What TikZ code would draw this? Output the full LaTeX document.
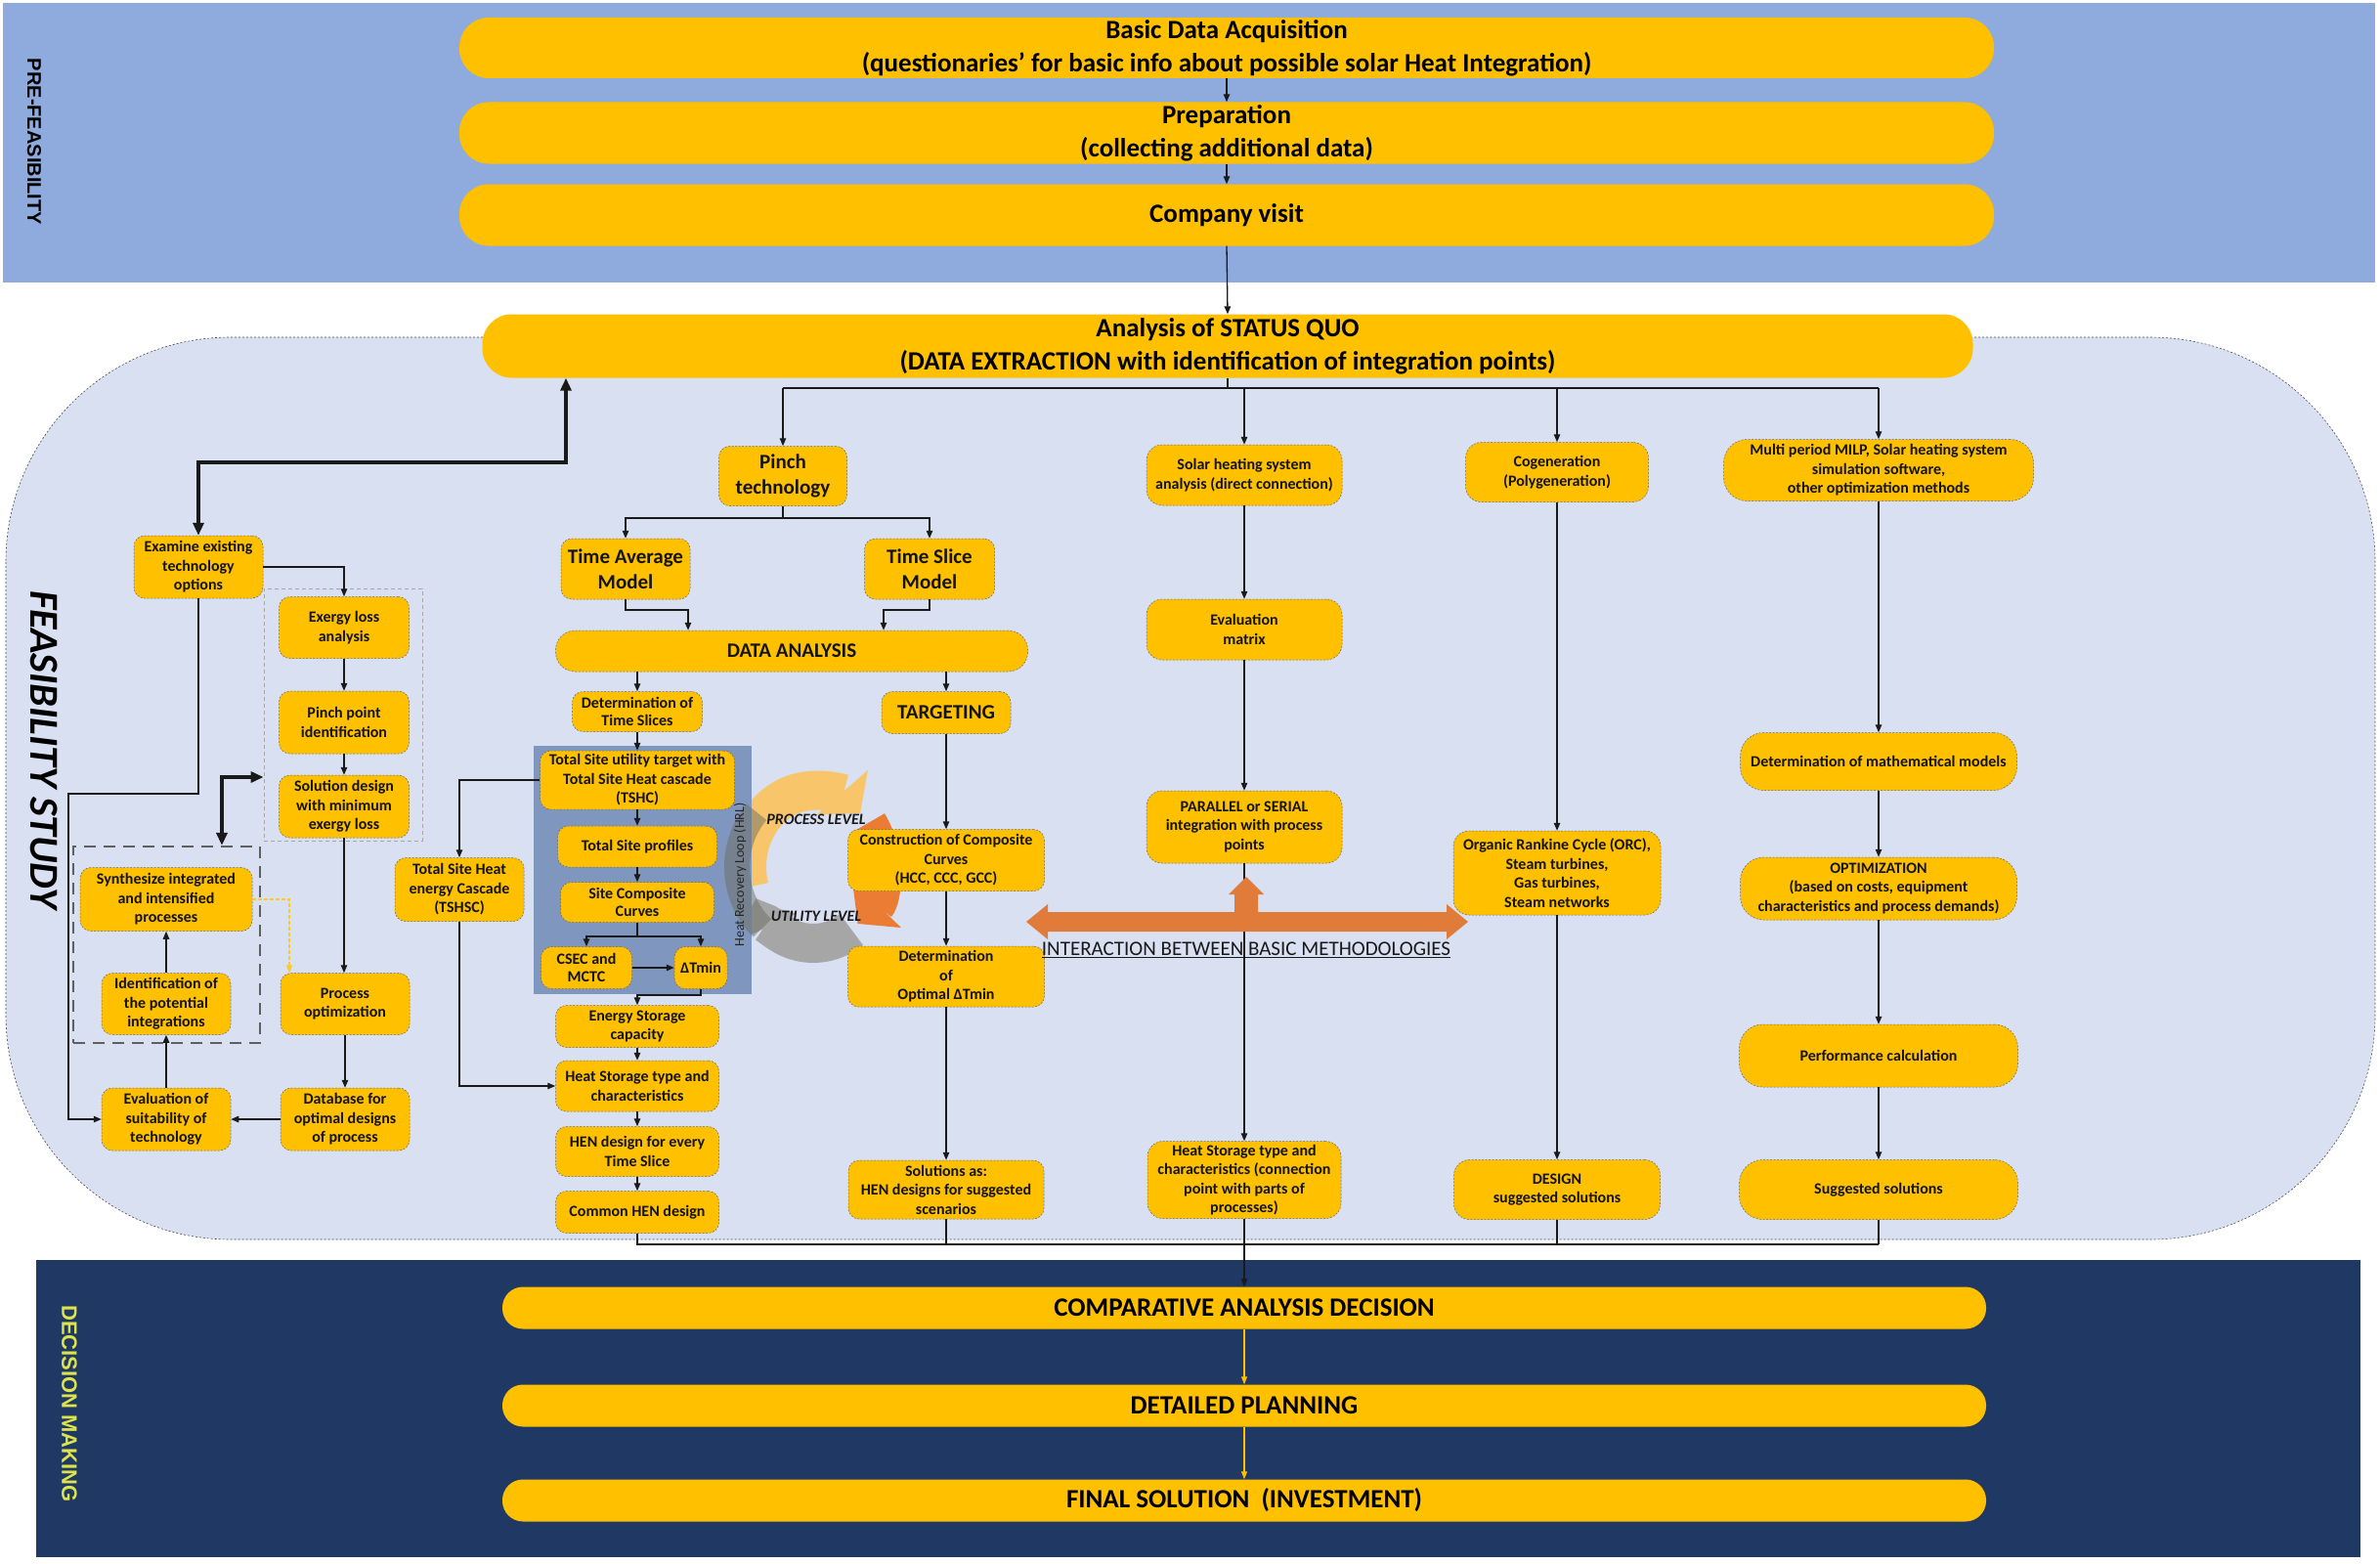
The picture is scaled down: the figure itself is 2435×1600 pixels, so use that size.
\documentclass[tikz,border=0pt]{standalone}
\usepackage{fontspec}
\setmainfont{Carlito}
\newfontfamily\labfont{Liberation Sans}
\usetikzlibrary{arrows.meta,calc}
\definecolor{prebg}{HTML}{8FAADC}
\definecolor{feasbg}{HTML}{D9E0F2}
\definecolor{decbg}{HTML}{1F3864}
\definecolor{ybox}{HTML}{FFC000}
\definecolor{hrlbg}{HTML}{7F96BE}
\definecolor{lorange}{HTML}{F8C56B}
\definecolor{dorange}{HTML}{EB7C33}
\definecolor{cgray}{HTML}{A6A6A6}
\definecolor{hrlarc}{HTML}{6E6E64}
\definecolor{iarrow}{HTML}{E07B3A}
\definecolor{declab}{HTML}{DCE34B}
\definecolor{lineclr}{HTML}{1A1A1A}
\newcommand{\myfs}[2]{\fontsize{#1}{#2}\selectfont}
\tikzset{
  box/.style={draw=black!60, line width=0.5pt, dash pattern=on 2pt off 1.5pt, fill=ybox, rounded corners=11pt, align=center, inner sep=1pt, text=black!92, font=\bfseries\myfs{16}{19.5}},
  bigbox/.style={box, font=\bfseries\myfs{21}{26}},
  pill/.style={box, rounded corners=24pt},
  bar/.style={fill=ybox, rounded corners=30pt, align=center, text=black, font=\bfseries\myfs{27}{34}, minimum width=1570, minimum height=62, inner sep=0pt},
  dbar/.style={fill=ybox, rounded corners=21pt, align=center, text=black, font=\bfseries\myfs{27}{32}, minimum width=1518, minimum height=43, inner sep=0pt},
  wire/.style={draw=lineclr, line width=1.3pt},
  conn/.style={wire, -{Triangle[length=8pt,width=6.5pt]}},
  hwire/.style={draw=lineclr, line width=3.4pt},
  hconn/.style={hwire, {Triangle[length=13pt,width=11pt]}-{Triangle[length=13pt,width=11pt]}},
  yconn/.style={draw=ybox!85!white, line width=1.2pt, dash pattern=on 4pt off 2pt, -{Triangle[length=8pt,width=6.5pt]}},
  dconn/.style={draw=ybox, line width=1.2pt, -{Triangle[length=8pt,width=6pt]}},
  grpa/.style={draw=gray!70, line width=0.8pt, dash pattern=on 4pt off 3pt, inner sep=0pt},
  grpb/.style={draw=gray!75!black, line width=2.2pt, dash pattern=on 12pt off 8pt, inner sep=0pt},
  lvl/.style={font=\bfseries\itshape\myfs{16}{18}, text=black!90},
  ring/.style={line width=40pt, -{Triangle[length=28pt,width=68pt]}},
}
\begin{document}
\begin{tikzpicture}[x=1pt,y=-1pt]
\useasboundingbox (0,0) rectangle (2435,1600);
\fill[white] (0,0) rectangle (2435,1600);
% bands
\fill[prebg] (3,3) rectangle (2430,289);
\fill[feasbg, rounded corners=230pt] (6,345) rectangle (2430,1268);
\draw[gray!60!black, line width=0.6pt, dash pattern=on 2pt off 2pt, rounded corners=230pt] (6,345) rectangle (2430,1268);
\fill[decbg] (37,1289) rectangle (2415,1593);

% band labels
\node[rotate=-90, font=\labfont\bfseries\myfs{20}{24}, text=black] (lpre) at (35,145) {PRE-FEASIBILITY};
\node[rotate=-90, font=\bfseries\itshape\myfs{42}{46}, text=black] (lfeas) at (45,767) {FEASIBILITY STUDY};
\node[rotate=-90, font=\labfont\bfseries\myfs{22}{26}, text=declab] (ldec) at (71,1436) {DECISION MAKING};

% top bars
\node[bar] (basic) at (1255,49) {Basic Data Acquisition\\(questionaries' for basic info about possible solar Heat Integration)};
\node[bar, minimum height=63] (prep) at (1255,136) {Preparation\\(collecting additional data)};
\node[bar, minimum height=63] (visit) at (1255,220) {Company visit};
\node[bar, minimum width=1525, minimum height=65] (status) at (1256,354) {Analysis of STATUS QUO\\(DATA EXTRACTION with identification of integration points)};

% cycle graphic
\begin{scope}[shift={(832,887)}]
  \draw[lorange, ring] (195:68pt and 78pt) arc[start angle=195, end angle=45, x radius=68pt, y radius=78pt];
  \draw[cgray, ring] (-55:68pt and 78pt) arc[start angle=-55, end angle=-152, x radius=68pt, y radius=78pt];
  \draw[dorange, ring] (35:68pt and 78pt) arc[start angle=35, end angle=-48, x radius=68pt, y radius=78pt];
\end{scope}

% HRL panel
\node[fill=hrlbg, minimum width=223, minimum height=254, inner sep=0pt] (hrlp) at (657.5,890) {};
\begin{scope}[shift={(832,887)}]
  \draw[hrlarc, opacity=0.5, line width=26pt] (228:78pt and 84pt) arc[start angle=228, end angle=138, x radius=78pt, y radius=84pt];
\end{scope}
\node[rotate=90, font=\myfs{14}{16}, text=black!85] (hrltxt) at (757,895) {Heat Recovery Loop (HRL)};

% dashed groups (left)
\node[grpa, minimum width=162, minimum height=258] (grpex) at (351,731) {};
\node[grpb, minimum width=191, minimum height=201] (grpsy) at (170.5,966.5) {};

% left column
\node[box, minimum width=132, minimum height=64] (exam) at (203,580) {Examine existing\\technology\\options};
\node[box, minimum width=133, minimum height=63] (exer) at (352,642) {Exergy loss\\analysis};
\node[box, minimum width=133, minimum height=64] (pinpt) at (352,739) {Pinch point\\identification};
\node[box, minimum width=133, minimum height=64] (soldes) at (352,825) {Solution design\\with minimum\\exergy loss};
\node[box, minimum width=176, minimum height=65] (synth) at (170,920) {Synthesize integrated\\and intensified\\processes};
\node[box, minimum width=132, minimum height=63] (ident) at (170,1027) {Identification of\\the potential\\integrations};
\node[box, minimum width=132, minimum height=64] (evalt) at (170,1145) {Evaluation of\\suitability of\\technology};
\node[box, minimum width=132, minimum height=63] (procopt) at (353,1027) {Process\\optimization};
\node[box, minimum width=132, minimum height=64] (dbase) at (353,1145) {Database for\\optimal designs\\of process};
\node[box, minimum width=132, minimum height=65] (tshsc) at (470,910) {Total Site Heat\\energy Cascade\\(TSHSC)};

% pinch column
\node[bigbox, minimum width=131, minimum height=61] (pinch) at (801,487) {Pinch\\technology};
\node[bigbox, minimum width=132, minimum height=62] (tam) at (640,582) {Time Average\\Model};
\node[bigbox, minimum width=133, minimum height=62] (tsm) at (951,582) {Time Slice\\Model};
\node[bigbox, rounded corners=20pt, minimum width=483, minimum height=42] (da) at (810,666) {DATA ANALYSIS};
\node[box, minimum width=133, minimum height=41, font=\bfseries\myfs{16}{18.5}] (dts) at (652,728) {Determination of\\Time Slices};
\node[bigbox, minimum width=132, minimum height=43] (targ) at (968,729) {TARGETING};
\node[box, minimum width=199, minimum height=60] (tshc) at (652,798) {Total Site utility target with\\Total Site Heat cascade\\(TSHC)};
\node[box, minimum width=163, minimum height=42] (tsp) at (652,866) {Total Site profiles};
\node[box, minimum width=157, minimum height=41, font=\bfseries\myfs{16}{18.5}] (scc) at (652,923) {Site Composite\\Curves};
\node[box, minimum width=93, minimum height=43, font=\bfseries\myfs{16}{18.5}] (csec) at (600,990) {CSEC and\\MCTC};
\node[box, minimum width=54, minimum height=43] (dtm) at (717,990) {ΔTmin};
\node[box, minimum width=167, minimum height=43, font=\bfseries\myfs{16}{18.5}] (esc) at (652,1050) {Energy Storage\\capacity};
\node[box, minimum width=167, minimum height=52] (hst) at (652,1111) {Heat Storage type and\\characteristics};
\node[box, minimum width=167, minimum height=51] (hen) at (652,1178) {HEN design for every\\Time Slice};
\node[box, minimum width=167, minimum height=43] (chen) at (652,1240) {Common HEN design};
\node[box, minimum width=201, minimum height=63] (ccc) at (968,880) {Construction of Composite\\Curves\\(HCC, CCC, GCC)};
\node[box, minimum width=201, minimum height=62] (optdt) at (968,999) {Determination\\of\\Optimal ΔTmin};
\node[box, minimum width=200, minimum height=60] (solas) at (968,1217) {Solutions as:\\HEN designs for suggested\\scenarios};

% solar column
\node[box, rounded corners=16pt, minimum width=200, minimum height=62] (solar) at (1273,486) {Solar heating system\\analysis (direct connection)};
\node[box, rounded corners=16pt, minimum width=200, minimum height=62] (evm) at (1273,644) {Evaluation\\matrix};
\node[box, rounded corners=16pt, minimum width=200, minimum height=74] (par) at (1273,846) {PARALLEL or SERIAL\\integration with process\\points};
\node[box, rounded corners=16pt, minimum width=198, minimum height=79] (hs3) at (1273,1207) {Heat Storage type and\\characteristics (connection\\point with parts of\\processes)};

% cogeneration column
\node[box, rounded corners=16pt, minimum width=187, minimum height=61] (cogen) at (1593,483) {Cogeneration\\(Polygeneration)};
\node[box, rounded corners=16pt, minimum width=212, minimum height=86] (orc) at (1593,893) {Organic Rankine Cycle (ORC),\\Steam turbines,\\Gas turbines,\\Steam networks};
\node[box, rounded corners=16pt, minimum width=211, minimum height=61] (design) at (1593,1217) {DESIGN\\suggested solutions};

% optimisation column
\node[pill, minimum width=317, minimum height=63] (milp) at (1922,481) {Multi period MILP, Solar heating system\\simulation software,\\other optimization methods};
\node[pill, minimum width=283, minimum height=59] (mathm) at (1922,779) {Determination of mathematical models};
\node[pill, minimum width=283, minimum height=64] (optim) at (1922,909) {OPTIMIZATION\\(based on costs, equipment\\characteristics and process demands)};
\node[pill, minimum width=285, minimum height=64] (perf) at (1922,1080) {Performance calculation};
\node[pill, minimum width=285, minimum height=61] (sugg) at (1922,1217) {Suggested solutions};

% decision bars
\node[dbar] (comp) at (1273,1338) {COMPARATIVE ANALYSIS DECISION};
\node[dbar] (plan) at (1273,1438) {DETAILED PLANNING};
\node[dbar] (final) at (1273,1535) {FINAL SOLUTION\ \ (INVESTMENT)};

% ---------- connectors ----------
% top
\draw[conn] (basic.south) -- (prep.north);
\draw[conn] (prep.south) -- (visit.north);
\draw[conn] (visit.south) -- (status.north);
% branches from status
\coordinate (br0) at (1256,397);
\coordinate (brL) at (801,397);
\coordinate (brR) at (1922,397);
\draw[wire] (status.south) -- (br0);
\draw[wire] (brL) -- (brR);
\draw[conn] (brL) -- (pinch.north);
\draw[conn] (solar.north |- brL) -- (solar.north);
\draw[conn] (cogen.north |- brL) -- (cogen.north);
\draw[conn] (brR) -- (milp.north);
% examine loop (thick)
\coordinate (k1) at (203,473);
\coordinate (k2) at (579,473);
\draw[hconn] (exam.north) -- (k1) -- (k2) -- (status.south -| k2);
\coordinate (tb) at (227,795);
\draw[hconn] (grpsy.north -| tb) -- (tb) -- (grpex.west |- tb);
% left column
\draw[conn] (exam.east) -| (exer.north);
\draw[conn] (exer.south) -- (pinpt.north);
\draw[conn] (pinpt.south) -- (soldes.north);
\draw[conn] (soldes.south) -- (procopt.north -| soldes.south);
\draw[conn] (procopt.south) -- (dbase.north);
\draw[conn] (dbase.west) -- (evalt.east);
\draw[conn] (evalt.north) -- (ident.south);
\draw[conn] (ident.north) -- (synth.south);
\coordinate (l1) at (203,812);
\coordinate (l2) at (70,812);
\draw[conn] (exam.south) -- (l1) -- (l2) -- (evalt.west -| l2) -- (evalt.west);
\coordinate (yb) at (296,920);
\draw[yconn] (synth.east) -- (yb) -- (yb |- procopt.north);
% pinch column
\coordinate (p1) at (801,530);
\draw[wire] (pinch.south) -- (p1);
\draw[conn] (p1) -| (tam.north);
\draw[conn] (p1) -| (tsm.north);
\coordinate (t1) at (704,624);
\coordinate (t2) at (904,624);
\draw[conn] (tam.south) |- (t1) -- (t1 |- da.north);
\draw[conn] (tsm.south) |- (t2) -- (t2 |- da.north);
\draw[conn] (da.south -| dts.north) -- (dts.north);
\draw[conn] (da.south -| targ.north) -- (targ.north);
\draw[conn] (dts.south) -- (tshc.north);
\draw[conn] (tshc.south) -- (tsp.north);
\draw[conn] (tsp.south) -- (scc.north);
\coordinate (sc1) at (652,958);
\draw[wire] (scc.south) -- (sc1);
\draw[conn] (sc1) -| (csec.north);
\draw[conn] (sc1) -| (dtm.north);
\draw[conn] (csec.east) -- (dtm.west);
\coordinate (es1) at (652,1018);
\draw[conn] (dtm.south) |- (es1) -- (esc.north);
\draw[conn] (esc.south) -- (hst.north);
\draw[conn] (hst.south) -- (hen.north);
\draw[conn] (hen.south) -- (chen.north);
\draw[conn] (tshc.west) -| (tshsc.north);
\draw[conn] (tshsc.south) |- (hst.west);
\draw[conn] (targ.south) -- (ccc.north);
\draw[conn] (ccc.south) -- (optdt.north);
\draw[conn] (optdt.south) -- (solas.north);
% solar column
\draw[conn] (solar.south) -- (evm.north);
\draw[conn] (evm.south) -- (par.north);
\draw[conn] (par.south) -- (hs3.north);
% cogeneration column
\draw[conn] (cogen.south) -- (orc.north);
\draw[conn] (orc.south) -- (design.north);
% optimisation column
\draw[conn] (milp.south) -- (mathm.north);
\draw[conn] (mathm.south) -- (optim.north);
\draw[conn] (optim.south) -- (perf.north);
\draw[conn] (perf.south) -- (sugg.north);
% collector
\coordinate (cb) at (1273,1273);
\coordinate (cbL) at (652,1273);
\coordinate (cbR) at (1922,1273);
\draw[wire] (chen.south) -- (cbL) -- (cbR);
\draw[wire] (solas.south) -- (solas.south |- cb);
\draw[wire] (hs3.south) -- (cb);
\draw[wire] (design.south) -- (design.south |- cb);
\draw[wire] (sugg.south) -- (cbR);
\draw[conn] (cb) -- (comp.north);
% decision
\draw[dconn] (comp.south) -- (plan.north);
\draw[dconn] (plan.south) -- (final.north);

% interaction arrow
\fill[iarrow] (1050,943) -- (1072,925) -- (1072,933) -- (1263,933) -- (1263,915) -- (1257,915) -- (1275,897) -- (1293,915) -- (1287,915) -- (1287,933) -- (1480,933) -- (1480,925) -- (1502,943) -- (1480,961) -- (1480,953) -- (1072,953) -- (1072,961) -- cycle;
\node[font=\myfs{21}{24}, text=black!90] (inter) at (1275,972) {\underline{INTERACTION BETWEEN BASIC METHODOLOGIES}};

% cycle labels
\node[lvl] (plev) at (835,838) {PROCESS LEVEL};
\node[lvl] (ulev) at (835,937) {UTILITY LEVEL};
\end{tikzpicture}
\end{document}
